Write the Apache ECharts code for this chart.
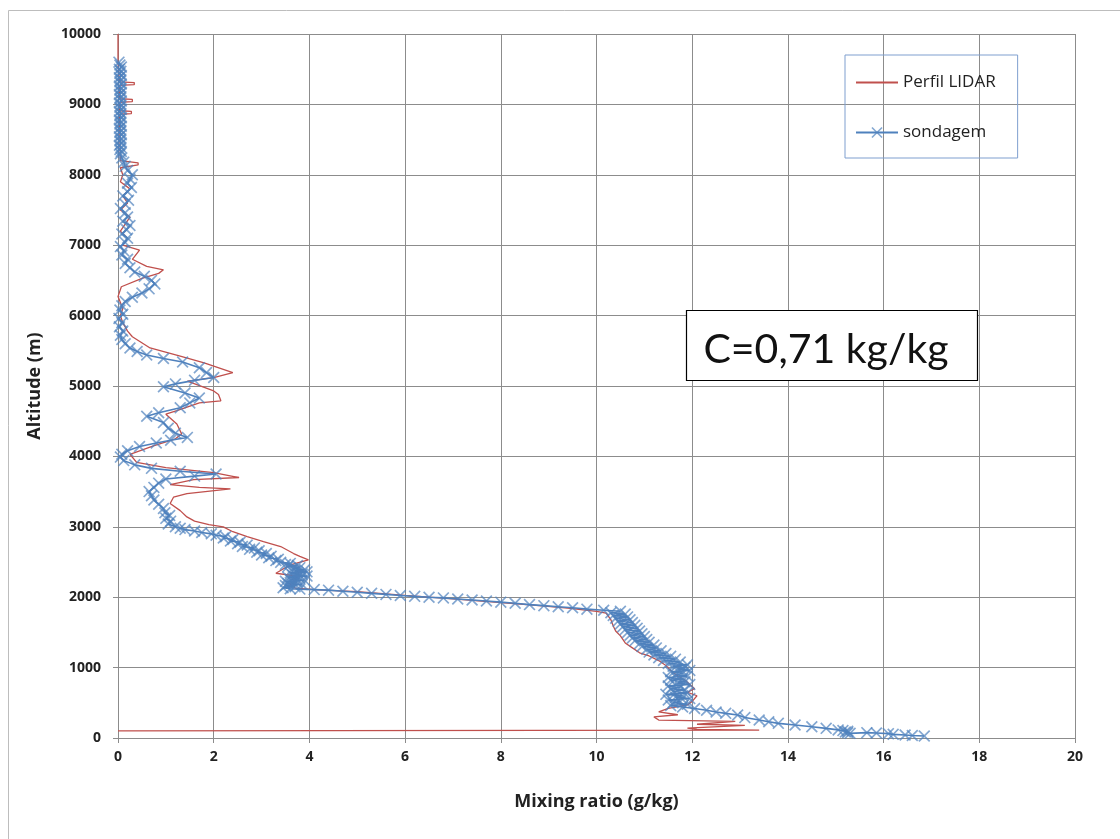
<!DOCTYPE html>
<html>
<head>
  <meta charset="utf-8" />
  <title>Perfil LIDAR x sondagem</title>
  <script src="https://cdn.jsdelivr.net/npm/echarts@6/dist/echarts.min.js"></script>
  <style>
    html, body { margin: 0; padding: 0; background: #fff; }
    #chart { width: 1120px; height: 839px; }
  </style>
</head>
<body>
  <div id="chart"></div>
  <script type="text/javascript">
    // [mixing ratio (g/kg), altitude (m)], bottom to top
    var lidarLow = [[0, 100], [13.4, 112], [12.1, 122], [11.9, 140], [13.1, 180], [12.1, 195], [12.9, 235], [11.3, 255], [11.2, 300],
      [11.7, 330], [11.3, 370], [11.5, 420], [11.9, 470], [12.0, 520], [12.1, 600], [11.9, 650], [12.05, 700], [11.95, 760],
      [11.85, 820], [11.7, 880], [11.55, 960], [11.45, 1030], [11.3, 1100], [11.1, 1165], [10.9, 1210], [10.75, 1280],
      [10.6, 1350], [10.5, 1450], [10.4, 1520], [10.35, 1590], [10.3, 1680], [10.2, 1775], [10.0, 1800]]
    var lidarMid = [[9.4, 1845], [8.8, 1880], [8.0, 1925], [7.0, 1975], [6.0, 2025], [5.0, 2080], [4.2, 2105], [3.7, 2130],
      [3.6, 2180], [3.75, 2240], [3.74, 2300], [3.3, 2340], [3.45, 2400], [3.6, 2460], [3.98, 2530], [3.8, 2580], [3.67, 2620],
      [3.4, 2720], [3.04, 2790], [2.7, 2860], [2.4, 2930], [2.2, 3000], [1.9, 3030], [1.6, 3080], [1.44, 3140], [1.3, 3230],
      [1.09, 3330], [1.16, 3420], [1.44, 3470], [2.35, 3540], [1.7, 3560], [1.09, 3600], [1.58, 3670], [2.53, 3700],
      [2.0, 3770], [1.0, 3840], [0.39, 3915], [0.25, 4030], [0.74, 4150], [1.2, 4250], [1.33, 4320], [1.23, 4460],
      [1.0, 4600], [1.23, 4650], [1.7, 4760], [2.15, 4790], [2.1, 4880], [2.0, 4930], [1.45, 5070], [2.0, 5120],
      [2.4, 5190], [1.8, 5330], [1.3, 5425], [0.67, 5540], [0.3, 5700], [0.2, 5780]]
    var lidarTop = [[0.1, 5900], [0.05, 6000], [0.1, 6100], [0.0, 6270], [0.07, 6410], [0.5, 6530], [0.85, 6600], [0.95, 6650],
      [0.6, 6700], [0.3, 6800], [0.45, 6930], [0.1, 7000], [0.2, 7100], [0.05, 7200], [0.15, 7300], [0.25, 7400], [0.05, 7500],
      [0.2, 7600], [0.1, 7700], [0.25, 7800], [0.05, 7900], [0.1, 8000], [0.05, 8100], [0.42, 8140], [0.42, 8170], [0.05, 8200],
      [0.03, 8860], [0.28, 8870], [0.28, 8900], [0.03, 8910], [0.03, 9030], [0.3, 9040], [0.3, 9070], [0.03, 9080],
      [0.03, 9270], [0.34, 9280], [0.34, 9310], [0.03, 9320], [0, 9600], [0, 10000]]

    var sondBase = [[16.85, 28], [16.6, 35], [16.45, 42], [16.2, 52], [16.1, 62], [15.85, 70], [15.65, 76], [15.3, 66], [15.25, 75],
      [15.2, 85], [15.25, 95], [15.15, 105], [15.05, 115], [14.8, 137], [14.5, 160], [14.15, 185], [13.8, 208], [13.6, 230],
      [13.4, 256], [13.1, 290], [12.95, 327], [12.7, 350], [12.5, 370], [12.3, 395], [12.05, 420]]
    var sondBand = [[11.8, 440], [11.55, 460], [11.9, 480], [11.6, 500], [11.75, 520], [11.5, 540], [11.95, 560], [11.65, 580],
      [11.8, 600], [11.45, 620], [11.9, 640], [11.6, 660], [11.85, 680], [11.55, 700], [11.75, 720], [11.5, 740], [11.95, 760],
      [11.7, 780], [11.85, 800], [11.55, 820], [11.8, 840], [11.5, 860], [11.9, 880], [11.65, 900], [11.8, 920], [11.55, 940],
      [11.95, 960], [11.7, 980], [11.85, 1000], [11.6, 1020], [11.9, 1040], [11.5, 1060], [11.75, 1080], [11.4, 1100],
      [11.65, 1120], [11.3, 1140], [11.55, 1160], [11.2, 1180], [11.45, 1200], [11.1, 1220], [11.35, 1240], [11.05, 1260],
      [11.25, 1280], [10.95, 1300], [11.2, 1320], [10.9, 1340], [11.1, 1360], [10.8, 1380], [11.05, 1400], [10.75, 1420],
      [11.0, 1440], [10.7, 1460], [10.95, 1480], [10.65, 1500], [10.9, 1520], [10.6, 1540], [10.85, 1560], [10.55, 1580],
      [10.8, 1600], [10.5, 1620], [10.75, 1640], [10.45, 1660], [10.7, 1680], [10.4, 1700], [10.65, 1720], [10.35, 1740],
      [10.6, 1760], [10.3, 1780], [10.5, 1800], [10.15, 1815]]
    var sondJump = [[9.8, 1830], [9.5, 1850], [9.2, 1865], [8.9, 1880], [8.6, 1895], [8.3, 1915], [8.0, 1930], [7.7, 1945],
      [7.4, 1960], [7.1, 1975], [6.8, 1990], [6.5, 2000], [6.2, 2012], [5.9, 2025], [5.6, 2040], [5.3, 2055], [5.0, 2070],
      [4.7, 2085], [4.4, 2100], [4.1, 2108], [3.8, 2115]]
    var sondMid = [[3.6, 2120], [3.45, 2135], [3.7, 2150], [3.5, 2165], [3.85, 2180], [3.55, 2195], [3.75, 2210], [3.5, 2225],
      [3.9, 2240], [3.6, 2255], [3.8, 2270], [3.55, 2285], [3.95, 2300], [3.65, 2315], [3.85, 2330], [3.6, 2345], [3.95, 2360],
      [3.7, 2375], [3.9, 2390], [3.65, 2405], [3.8, 2420], [3.55, 2435], [3.75, 2450], [3.5, 2465], [3.6, 2480], [3.4, 2495],
      [3.3, 2520], [3.35, 2540], [3.15, 2560], [3.2, 2580], [3.0, 2600], [3.1, 2620], [2.9, 2640], [2.95, 2660], [2.75, 2680],
      [2.85, 2700], [2.6, 2720], [2.7, 2740], [2.5, 2760], [2.55, 2780], [2.35, 2800], [2.4, 2820], [2.2, 2840], [2.25, 2860],
      [2.05, 2880], [1.95, 2900], [1.75, 2920], [1.6, 2940], [1.4, 2960], [1.3, 2980], [1.2, 3000]]
    var sondUpper = [[1.05, 3040], [1.1, 3080], [1.0, 3120], [1.08, 3160], [0.98, 3200], [0.95, 3260], [0.85, 3320], [0.75, 3380],
      [0.7, 3440], [0.65, 3500], [0.75, 3560], [0.85, 3620], [1.0, 3680], [1.6, 3720], [2.05, 3750], [1.3, 3790], [0.7, 3830],
      [0.35, 3880], [0.12, 3940], [0.05, 3990], [0.08, 4030], [0.2, 4080], [0.45, 4140], [0.8, 4190], [1.1, 4230], [1.45, 4270],
      [1.2, 4330], [1.05, 4400], [0.95, 4480], [0.6, 4570], [0.85, 4620], [1.3, 4690], [1.5, 4760], [1.7, 4830], [1.4, 4900],
      [0.95, 4990], [1.2, 5030], [1.6, 5080], [2.0, 5120], [1.85, 5190], [1.7, 5260], [1.35, 5340], [0.95, 5390], [0.6, 5440],
      [0.4, 5490], [0.25, 5540], [0.15, 5600], [0.08, 5660], [0.05, 5720], [0.1, 5780], [0.03, 5840], [0.08, 5900],
      [0.02, 5960]]
    var sondTop = [[0.1, 6020], [0.04, 6080], [0.08, 6140], [0.15, 6200], [0.3, 6260], [0.5, 6320], [0.65, 6380], [0.77, 6450],
      [0.7, 6500], [0.55, 6560], [0.35, 6620], [0.25, 6680], [0.15, 6740], [0.2, 6800], [0.08, 6860], [0.12, 6920], [0.05, 6980],
      [0.15, 7040], [0.2, 7100], [0.08, 7160], [0.18, 7220], [0.25, 7280], [0.1, 7340], [0.2, 7400], [0.15, 7460], [0.05, 7520],
      [0.15, 7580], [0.22, 7640], [0.1, 7700], [0.2, 7760], [0.28, 7820], [0.2, 7880], [0.25, 7940], [0.3, 8000], [0.2, 8060],
      [0.15, 8120], [0.12, 8180], [0.08, 8240], [0.05, 8300], [0.07, 8330], [0.04, 8360], [0.06, 8390], [0.03, 8420],
      [0.07, 8450], [0.04, 8480], [0.06, 8510], [0.03, 8540], [0.07, 8570], [0.04, 8600], [0.06, 8630], [0.03, 8660],
      [0.07, 8690], [0.04, 8720], [0.06, 8750], [0.03, 8780], [0.07, 8810], [0.04, 8840], [0.06, 8870], [0.03, 8900],
      [0.07, 8930], [0.04, 8960], [0.06, 8990], [0.03, 9020], [0.07, 9050], [0.04, 9080], [0.06, 9110], [0.03, 9140],
      [0.07, 9170], [0.04, 9200], [0.06, 9230], [0.03, 9260], [0.07, 9290], [0.04, 9320], [0.06, 9350], [0.03, 9380],
      [0.07, 9410], [0.04, 9440], [0.06, 9470], [0.03, 9500], [0.07, 9530], [0.04, 9560], [0.02, 9600]]

    var xTicks = { min: 0, max: 20, interval: 2 }
    var yTicks = { min: 0, max: 10000, interval: 1000 }

    var lidarData = lidarLow.concat(lidarMid, lidarTop)
    var sondData = sondBase.concat(sondBand, sondJump, sondMid, sondUpper, sondTop)

    var crossSymbol = "path://M0,1L1,0L5,4L9,0L10,1L6,5L10,9L9,10L5,6L1,10L0,9L4,5Z"
    var labelFont = "'Open Sans', 'Liberation Sans', sans-serif"

    var myChart = echarts.init(document.getElementById("chart"), null, { renderer: "canvas" })

    var option = {
      animation: false,
      backgroundColor: "#ffffff",
      grid: { left: 118, right: 45, top: 34, bottom: 101 },
      legend: {
        orient: "vertical",
        left: 845,
        top: 55,
        padding: [19, 22, 17, 10],
        itemGap: 33,
        itemWidth: 42,
        itemHeight: 14,
        borderColor: "#7f9fcf",
        borderWidth: 1,
        textStyle: { fontFamily: labelFont, fontSize: 17, color: "#222" },
        data: [
          { name: "Perfil LIDAR", itemStyle: { opacity: 0 } },
          { name: "sondagem" }
        ]
      },
      xAxis: {
        type: "value",
        min: xTicks.min,
        max: xTicks.max,
        interval: xTicks.interval,
        name: "Mixing ratio (g/kg)",
        nameLocation: "middle",
        nameGap: 55,
        nameTextStyle: { fontFamily: labelFont, fontSize: 18, fontWeight: "bold", color: "#222" },
        axisLine: { onZero: false, lineStyle: { color: "#8c8c8c", width: 1 } },
        axisTick: { show: true, length: 5, lineStyle: { color: "#8c8c8c" } },
        axisLabel: { fontFamily: labelFont, fontSize: 14, fontWeight: "bold", color: "#222", margin: 12 },
        splitLine: { show: true, lineStyle: { color: "#8c8c8c", width: 1 } }
      },
      yAxis: {
        type: "value",
        min: yTicks.min,
        max: yTicks.max,
        interval: yTicks.interval,
        name: "Altitude (m)",
        nameLocation: "middle",
        nameGap: 74,
        nameRotate: 90,
        nameTextStyle: { fontFamily: labelFont, fontSize: 18, fontWeight: "bold", color: "#222" },
        axisLine: { show: true, onZero: false, lineStyle: { color: "#8c8c8c", width: 1 } },
        axisTick: { show: true, length: 5, lineStyle: { color: "#8c8c8c" } },
        axisLabel: {
          fontFamily: labelFont, fontSize: 14, fontWeight: "bold", color: "#222", margin: 17,
          formatter: function (v) { return String(v) }
        },
        splitLine: { show: true, lineStyle: { color: "#8c8c8c", width: 1 } }
      },
      graphic: [
        {
          type: "rect",
          silent: true,
          shape: { x: 8.5, y: 10.5, width: 1200, height: 1000 },
          style: { fill: "none", stroke: "#bdbdbd", lineWidth: 1 }
        },
        {
          type: "rect",
          silent: true,
          z: 10,
          shape: { x: 686.5, y: 310.5, width: 291, height: 70 },
          style: { fill: "#ffffff", stroke: "#000000", lineWidth: 1.2 }
        },
        {
          type: "text",
          silent: true,
          z: 11,
          x: 826,
          y: 350,
          style: {
            text: "C=0,71 kg/kg",
            fontFamily: "'Lato', 'Noto Sans', sans-serif",
            fontSize: 41,
            fill: "#111",
            align: "center",
            verticalAlign: "middle"
          }
        }
      ],
      series: [
        {
          name: "Perfil LIDAR",
          type: "line",
          symbol: "none",
          itemStyle: { color: "#c0504d" },
          lineStyle: { color: "#c0504d", width: 1.3 },
          data: lidarData
        },
        {
          name: "sondagem",
          type: "line",
          symbol: crossSymbol,
          symbolSize: 12,
          showAllSymbol: true,
          itemStyle: { color: "#4f81bd", opacity: 0.7 },
          lineStyle: { color: "#4f81bd", width: 1.6 },
          data: sondData
        }
      ]
    }
    myChart.setOption(option, true)
  </script>
</body>
</html>
